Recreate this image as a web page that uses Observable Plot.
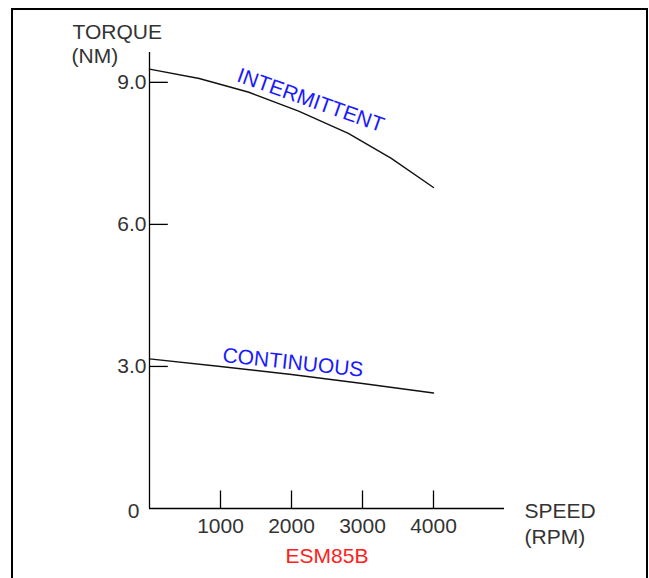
<!DOCTYPE html>
<html>
<head>
<meta charset="utf-8">
<script src="https://cdn.jsdelivr.net/npm/d3@7"></script>
<script src="https://cdn.jsdelivr.net/npm/@observablehq/plot@0.6"></script>
<style>
html, body { margin: 0; padding: 0; background: #fff; overflow: hidden; }
#wrap { position: relative; width: 649px; height: 578px; }
#frame { position: absolute; left: 11px; top: 8px; width: 637px; height: 700px; border: 2px solid #000; border-bottom: none; box-sizing: border-box; pointer-events: none; }
#chart { position: absolute; left: 0; top: 0; }
</style>
</head>
<body>
<div id="wrap"><div id="chart"></div><div id="frame"></div></div>
<script>
// Data
const intermittentSpeed = [0, 700, 1400, 2100, 2800, 3400, 4000];
const intermittentTorque = [9.28, 9.08, 8.79, 8.39, 7.92, 7.40, 6.78];
const continuousSpeed = [0, 1000, 2000, 3000, 4000];
const continuousTorque = [3.16, 3.00, 2.83, 2.64, 2.44];
const xTicks = [1000, 2000, 3000, 4000];
const xTickLabels = ["1000", "2000", "3000", "4000"];
const yTicks = [3, 6, 9];
const yTickLabels = ["3.0", "6.0", "9.0"];
const zeroLabel = ["0"];
const seriesNames = ["INTERMITTENT", "CONTINUOUS"];
const modelName = ["ESM85B"];

const intermittent = intermittentSpeed.map((s, i) => ({speed: s, torque: intermittentTorque[i]}));
const continuous = continuousSpeed.map((s, i) => ({speed: s, torque: continuousTorque[i]}));

const xMax = 5000, yMax = 9.63;
const font = "'Liberation Sans', Arial, sans-serif";
const ink = "#333";
const fs = 21;

const chart = Plot.plot({
  width: 649,
  height: 578,
  marginLeft: 149,
  marginRight: 145,
  marginTop: 52,
  marginBottom: 70,
  style: {fontFamily: font, fontSize: fs + "px", background: "transparent", overflow: "visible"},
  x: {domain: [0, xMax], axis: null},
  y: {domain: [0, yMax], axis: null},
  marks: [
    // axis lines
    Plot.ruleX([0], {y1: 0, y2: yMax, stroke: "#000", strokeWidth: 1.3}),
    Plot.ruleY([0], {x1: 0, x2: xMax, stroke: "#000", strokeWidth: 1.3}),
    // inward ticks
    Plot.ruleY(yTicks, {x1: 0, x2: 265, stroke: "#000", strokeWidth: 1.3}),
    Plot.ruleX(xTicks, {y1: 0, y2: 0.37, stroke: "#000", strokeWidth: 1.3}),
    // tick labels
    Plot.text(yTicks, {x: 0, y: d => d, text: (d, i) => yTickLabels[i], textAnchor: "end", dx: -3, fill: ink, fontSize: fs}),
    Plot.text(zeroLabel, {x: 0, y: 0, text: d => d, textAnchor: "end", dx: -10, dy: 3, fill: ink, fontSize: fs}),
    Plot.text(xTicks, {x: d => d, y: 0, text: (d, i) => xTickLabels[i], dy: 18, fill: ink, fontSize: fs}),
    // curves
    Plot.line(intermittent, {x: "speed", y: "torque", stroke: "#111", strokeWidth: 1.4}),
    Plot.line(continuous, {x: "speed", y: "torque", stroke: "#111", strokeWidth: 1.4}),
    // curve labels
    Plot.text([seriesNames[0]], {x: () => 2270, y: () => 8.62, text: d => d, rotate: 19.5, fill: "#1a1aff", fontSize: fs}),
    Plot.text([seriesNames[1]], {x: () => 2020, y: () => 3.08, text: d => d, rotate: 6, fill: "#1a1aff", fontSize: fs}),
    // axis titles
    Plot.text(["TORQUE"], {frameAnchor: "top-left", dx: -77, dy: -20, textAnchor: "start", lineAnchor: "middle", text: d => d, fill: ink, fontSize: fs}),
    Plot.text(["(NM)"], {frameAnchor: "top-left", dx: -78, dy: 4, textAnchor: "start", lineAnchor: "middle", text: d => d, fill: ink, fontSize: fs}),
    Plot.text(["SPEED"], {frameAnchor: "bottom-right", dx: 20, dy: 3, textAnchor: "start", lineAnchor: "middle", text: d => d, fill: ink, fontSize: fs}),
    Plot.text(["(RPM)"], {frameAnchor: "bottom-right", dx: 20, dy: 29, textAnchor: "start", lineAnchor: "middle", text: d => d, fill: ink, fontSize: fs}),
    Plot.text(modelName, {frameAnchor: "bottom", dy: 48, lineAnchor: "middle", text: d => d, fill: "#ff2020", fontSize: fs})
  ]
});
document.getElementById("chart").append(chart);
</script>
</body>
</html>
